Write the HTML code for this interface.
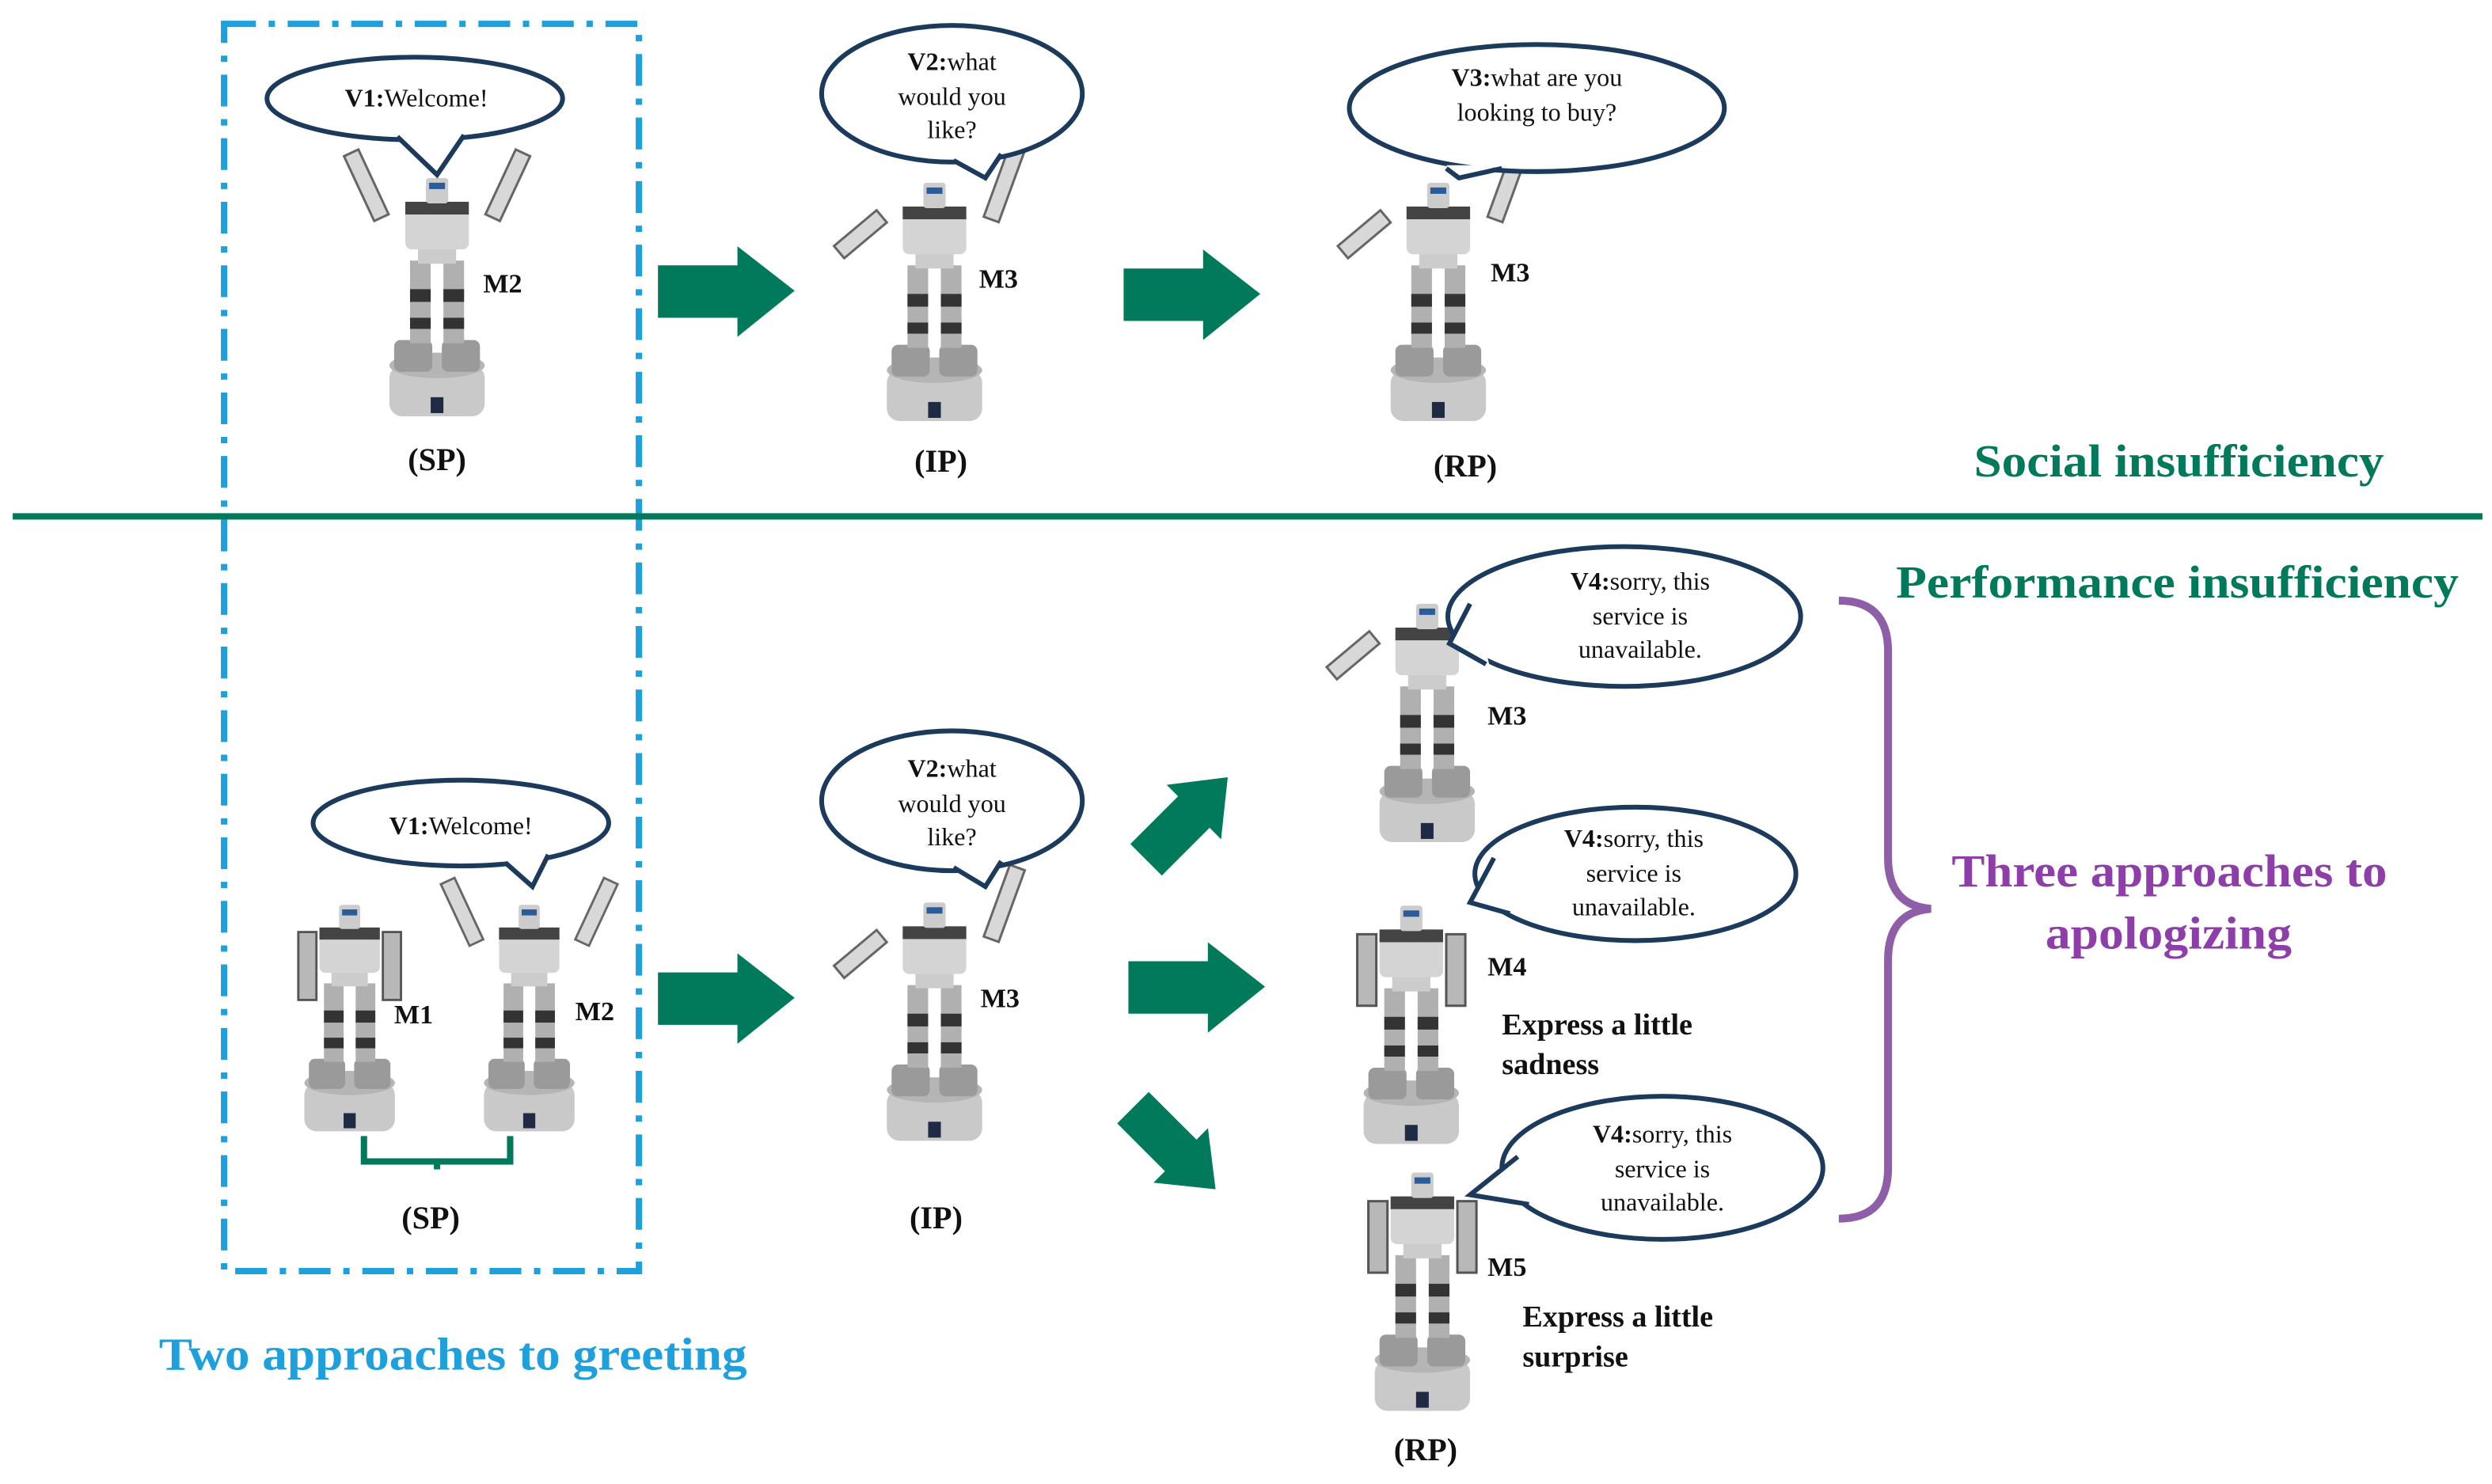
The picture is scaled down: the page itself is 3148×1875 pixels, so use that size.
<!DOCTYPE html>
<html><head><meta charset="utf-8"><style>
html,body{margin:0;padding:0;background:#fff;}
svg{display:block;}
text{font-family:"Liberation Serif",serif;}
</style></head><body>
<svg width="3148" height="1875" viewBox="0 0 1568 934" preserveAspectRatio="none" xmlns="http://www.w3.org/2000/svg">
<defs>
<g id="body">
  <rect x="-30" y="-32" width="60" height="32" rx="8" fill="#c9c9c9"/>
  <ellipse cx="0" cy="-32" rx="30" ry="8" fill="#b5b5b5"/>
  <rect x="-4" y="-12" width="8" height="10" fill="#1f2a44"/>
  <rect x="-27" y="-48" width="24" height="20" rx="4" fill="#9a9a9a"/>
  <rect x="3" y="-48" width="24" height="20" rx="4" fill="#9a9a9a"/>
  <rect x="-17" y="-98" width="13" height="52" fill="#b0b0b0"/>
  <rect x="4" y="-98" width="13" height="52" fill="#b0b0b0"/>
  <rect x="-17" y="-80" width="13" height="8" fill="#333"/>
  <rect x="4" y="-80" width="13" height="8" fill="#333"/>
  <rect x="-17" y="-62" width="13" height="7" fill="#333"/>
  <rect x="4" y="-62" width="13" height="7" fill="#333"/>
  <rect x="-12" y="-108" width="24" height="12" fill="#ccc"/>
  <rect x="-20" y="-135" width="40" height="30" rx="4" fill="#d4d4d4"/>
  <rect x="-20" y="-135" width="40" height="8" fill="#444"/>
  <rect x="-7" y="-150" width="14" height="16" rx="2" fill="#ccc"/>
  <rect x="-5" y="-147" width="10" height="4" fill="#2b5c9a"/>
</g>
<g id="robotUp">
  <use href="#body"/>
  <rect x="-40" y="-170" width="10" height="45" fill="#d8d8d8" stroke="#666" stroke-width="1.5" transform="rotate(-25 -35 -125)"/>
  <rect x="30" y="-170" width="10" height="45" fill="#d8d8d8" stroke="#666" stroke-width="1.5" transform="rotate(25 35 -125)"/>
</g>
<g id="robotWave">
  <use href="#body"/>
  <rect x="-40" y="-125" width="10" height="35" fill="#d8d8d8" stroke="#666" stroke-width="1.5" transform="rotate(50 -30 -125)"/>
  <rect x="30" y="-175" width="10" height="48" fill="#d8d8d8" stroke="#666" stroke-width="1.5" transform="rotate(20 35 -125)"/>
</g>
<g id="robotDown">
  <use href="#body"/>
  <rect x="-34" y="-132" width="12" height="45" fill="#b8b8b8" stroke="#555" stroke-width="1.5"/>
  <rect x="22" y="-132" width="12" height="45" fill="#b8b8b8" stroke="#555" stroke-width="1.5"/>
</g>
<g id="arrowR"><polygon points="0,12 50,12 50,0 86,28 50,57 50,45 0,45" fill="#007a5a"/></g>
</defs>

<rect x="141" y="15" width="261" height="785" fill="none" stroke="#1ea0dc" stroke-width="4" stroke-dasharray="20,8,4,8"/>
<rect x="8" y="323" width="1554" height="4" fill="#007a5a"/>

<use href="#robotUp" transform="translate(275,262)"/>
<use href="#robotWave" transform="translate(588,265)"/>
<use href="#robotWave" transform="translate(905,265)"/>
<use href="#robotDown" transform="translate(220,712) scale(0.95)"/>
<use href="#robotUp" transform="translate(333,712) scale(0.95)"/>
<use href="#robotWave" transform="translate(588,718)"/>
<use href="#robotWave" transform="translate(898,530)"/>
<use href="#robotDown" transform="translate(888,720)"/>
<use href="#robotDown" transform="translate(895,888)"/>

<!-- speech bubbles: ellipse + tail -->
<g stroke="#1b3a5c" stroke-width="3" fill="#fff" stroke-linejoin="miter">
  <ellipse cx="261" cy="62" rx="93" ry="26"/>
  <polygon points="250,84 275,110 292,83" stroke="none"/><polyline points="250,86 275,110 292,85" fill="none"/>
  <ellipse cx="599" cy="59" rx="82" ry="43"/>
  <polygon points="600,99 620,112 630,96" stroke="none"/><polyline points="600,101 620,112 630,97" fill="none"/>
  <ellipse cx="967" cy="68" rx="118" ry="40"/>
  <polygon points="910,104 918,112 945,104" stroke="none"/><polyline points="910,106 918,112 945,106" fill="none"/>
  <ellipse cx="290" cy="518" rx="93" ry="27"/>
  <polygon points="318,541 335,558 345,536" stroke="none"/><polyline points="318,543 335,558 345,538" fill="none"/>
  <ellipse cx="599" cy="504" rx="82" ry="44"/>
  <polygon points="600,544 620,558 630,540" stroke="none"/><polyline points="600,546 620,558 630,542" fill="none"/>
  <ellipse cx="1022" cy="388" rx="111" ry="44"/>
  <polygon points="927,378 912,405 937,418" stroke="none"/><polyline points="925,380 912,405 935,418" fill="none"/>
  <ellipse cx="1029" cy="550" rx="101" ry="42"/>
  <polygon points="942,538 925,568 952,575" stroke="none"/><polyline points="940,540 925,568 950,575" fill="none"/>
  <ellipse cx="1046" cy="735" rx="101" ry="45"/>
  <polygon points="957,726 925,752 964,758" stroke="none"/><polyline points="955,728 925,752 962,758" fill="none"/>
</g>
<g font-size="16" fill="#111" text-anchor="middle">
  <text x="262" y="67"><tspan font-weight="bold">V1:</tspan>Welcome!</text>
  <text x="599" y="44"><tspan font-weight="bold">V2:</tspan>what</text>
  <text x="599" y="66">would you</text>
  <text x="599" y="87">like?</text>
  <text x="967" y="54"><tspan font-weight="bold">V3:</tspan>what are you</text>
  <text x="967" y="76">looking to buy?</text>
  <text x="290" y="525"><tspan font-weight="bold">V1:</tspan>Welcome!</text>
  <text x="599" y="489"><tspan font-weight="bold">V2:</tspan>what</text>
  <text x="599" y="511">would you</text>
  <text x="599" y="532">like?</text>
  <text x="1032" y="371"><tspan font-weight="bold">V4:</tspan>sorry, this</text>
  <text x="1032" y="393">service is</text>
  <text x="1032" y="414">unavailable.</text>
  <text x="1028" y="533"><tspan font-weight="bold">V4:</tspan>sorry, this</text>
  <text x="1028" y="555">service is</text>
  <text x="1028" y="576">unavailable.</text>
  <text x="1046" y="719"><tspan font-weight="bold">V4:</tspan>sorry, this</text>
  <text x="1046" y="741">service is</text>
  <text x="1046" y="762">unavailable.</text>
</g>

<g font-size="17" font-weight="bold" fill="#111">
  <text x="304" y="184">M2</text>
  <text x="616" y="181">M3</text>
  <text x="938" y="177">M3</text>
  <text x="248" y="644">M1</text>
  <text x="362" y="642">M2</text>
  <text x="617" y="634">M3</text>
  <text x="936" y="456">M3</text>
  <text x="936" y="614">M4</text>
  <text x="936" y="803">M5</text>
</g>
<g font-size="20" font-weight="bold" fill="#111" text-anchor="middle">
  <text x="275" y="296">(SP)</text>
  <text x="592" y="297">(IP)</text>
  <text x="922" y="300">(RP)</text>
  <text x="271" y="773">(SP)</text>
  <text x="589" y="773">(IP)</text>
  <text x="897" y="919">(RP)</text>
</g>
<g font-size="19" font-weight="bold" fill="#111">
  <text x="945" y="651">Express a little</text>
  <text x="945" y="676">sadness</text>
  <text x="958" y="835">Express a little</text>
  <text x="958" y="860">surprise</text>
</g>

<path d="M229,715 L229,731 L321,731 L321,715 M275,731 L275,736" fill="none" stroke="#007a5a" stroke-width="4"/>

<use href="#arrowR" transform="translate(414,155)"/>
<use href="#arrowR" transform="translate(707,157)"/>
<use href="#arrowR" transform="translate(414,600)"/>
<use href="#arrowR" transform="translate(710,593)"/>
<use href="#arrowR" transform="translate(704,524) rotate(-45) scale(0.85)"/>
<use href="#arrowR" transform="translate(730,680) rotate(45) scale(0.85)"/>

<path d="M1157,378 Q1188,378 1188,410 L1188,540 Q1188,570 1215,572 Q1188,574 1188,604 L1188,735 Q1188,767 1157,767" fill="none" stroke="#8e5ea8" stroke-width="5"/>

<g font-size="29" font-weight="bold">
  <text x="1242" y="300" fill="#007a5a" textLength="258" lengthAdjust="spacingAndGlyphs">Social insufficiency</text>
  <text x="1193" y="376" fill="#007a5a" textLength="354" lengthAdjust="spacingAndGlyphs">Performance insufficiency</text>
  <text x="1228" y="558" fill="#8e3ea8" textLength="274" lengthAdjust="spacingAndGlyphs">Three approaches to</text>
  <text x="1287" y="597" fill="#8e3ea8" textLength="155" lengthAdjust="spacingAndGlyphs">apologizing</text>
  <text x="100" y="862" fill="#1ea0dc" textLength="370" lengthAdjust="spacingAndGlyphs">Two approaches to greeting</text>
</g>
</svg>
</body></html>
